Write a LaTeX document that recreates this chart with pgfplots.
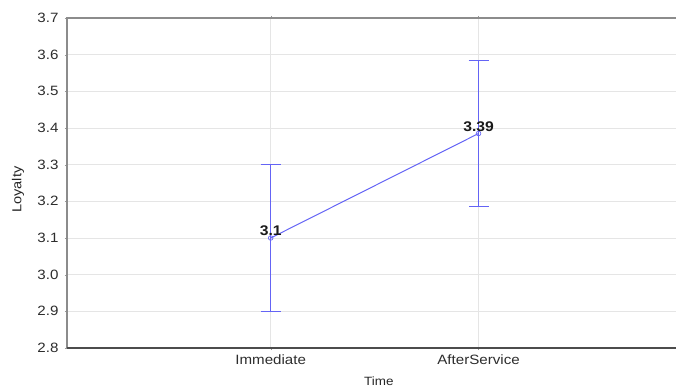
\documentclass[border=0pt]{standalone}
\usepackage{pgfplots}
\pgfplotsset{compat=1.18}
\usepackage{fontspec}
\setmainfont{Liberation Sans}
\newfontfamily\chartfont[FakeStretch=1.12]{Liberation Sans}
\definecolor{lineblue}{RGB}{100,100,245}
\definecolor{tickgray}{RGB}{45,45,45}
\begin{document}
\begin{tikzpicture}
\begin{axis}[
  at={(0,0)}, anchor=south west,
  scale only axis,
  width=609pt, height=330pt,
  xmin=0.02, xmax=2.95,
  ymin=2.8, ymax=3.7,
  ytick={2.8,2.9,3.0,3.1,3.2,3.3,3.4,3.5,3.6,3.7},
  xtick={1,2},
  xticklabels={Immediate,AfterService},
  /pgf/number format/assume math mode=true,
  yticklabel style={/pgf/number format/fixed, /pgf/number format/fixed zerofill, /pgf/number format/precision=1, font=\chartfont\fontsize{13.5}{15}\selectfont, text=tickgray, xshift=-3pt},
  xticklabel style={font=\chartfont\fontsize{13.5}{15}\selectfont, text=tickgray, yshift=-1pt},
  ymajorgrids, xmajorgrids,
  grid style={draw=black!10, line width=0.8pt},
  axis line style={draw=none},
  tick align=outside,
  major tick length=2pt,
  tick style={black!40},
  ylabel={Loyalty},
  ylabel style={font=\chartfont\fontsize{13}{15}\selectfont, text=black!85, at={(axis description cs:-0.0805,0.48)}, anchor=center},
  xlabel={Time},
  xlabel style={font=\chartfont\fontsize{12}{14}\selectfont, text=black!85, at={(axis description cs:0.512,-0.101)}, anchor=center},
  clip=false,
]
\addplot[color=lineblue, line width=1pt, mark=o, mark size=2.3pt,
  mark options={line width=0.7pt},
  error bars/.cd, y dir=both, y explicit,
  error bar style={line width=1pt, color=lineblue},
  error mark options={rotate=90, line width=1pt, color=lineblue, mark size=10pt}]
coordinates {
  (1,3.1) +- (0,0.2)
  (2,3.385) +- (0,0.2)
};
\addplot[draw=none, mark=none,
  nodes near coords, point meta=explicit symbolic,
  every node near coord/.append style={font=\chartfont\bfseries\fontsize{14}{16}\selectfont, text=black!90, anchor=south, yshift=-1.5pt}]
coordinates {
  (1,3.1) [3.1]
  (2,3.385) [3.39]
};
\draw[black!45, line width=1.2pt] (rel axis cs:1,1) -- (rel axis cs:0,1) -- (rel axis cs:0,0);
\draw[black!70, line width=1.2pt] (rel axis cs:0,0) -- (rel axis cs:1,0);
\end{axis}
\pgfresetboundingbox
\path (-67pt,-43pt) rectangle (609pt,348pt);
\end{tikzpicture}
\end{document}
